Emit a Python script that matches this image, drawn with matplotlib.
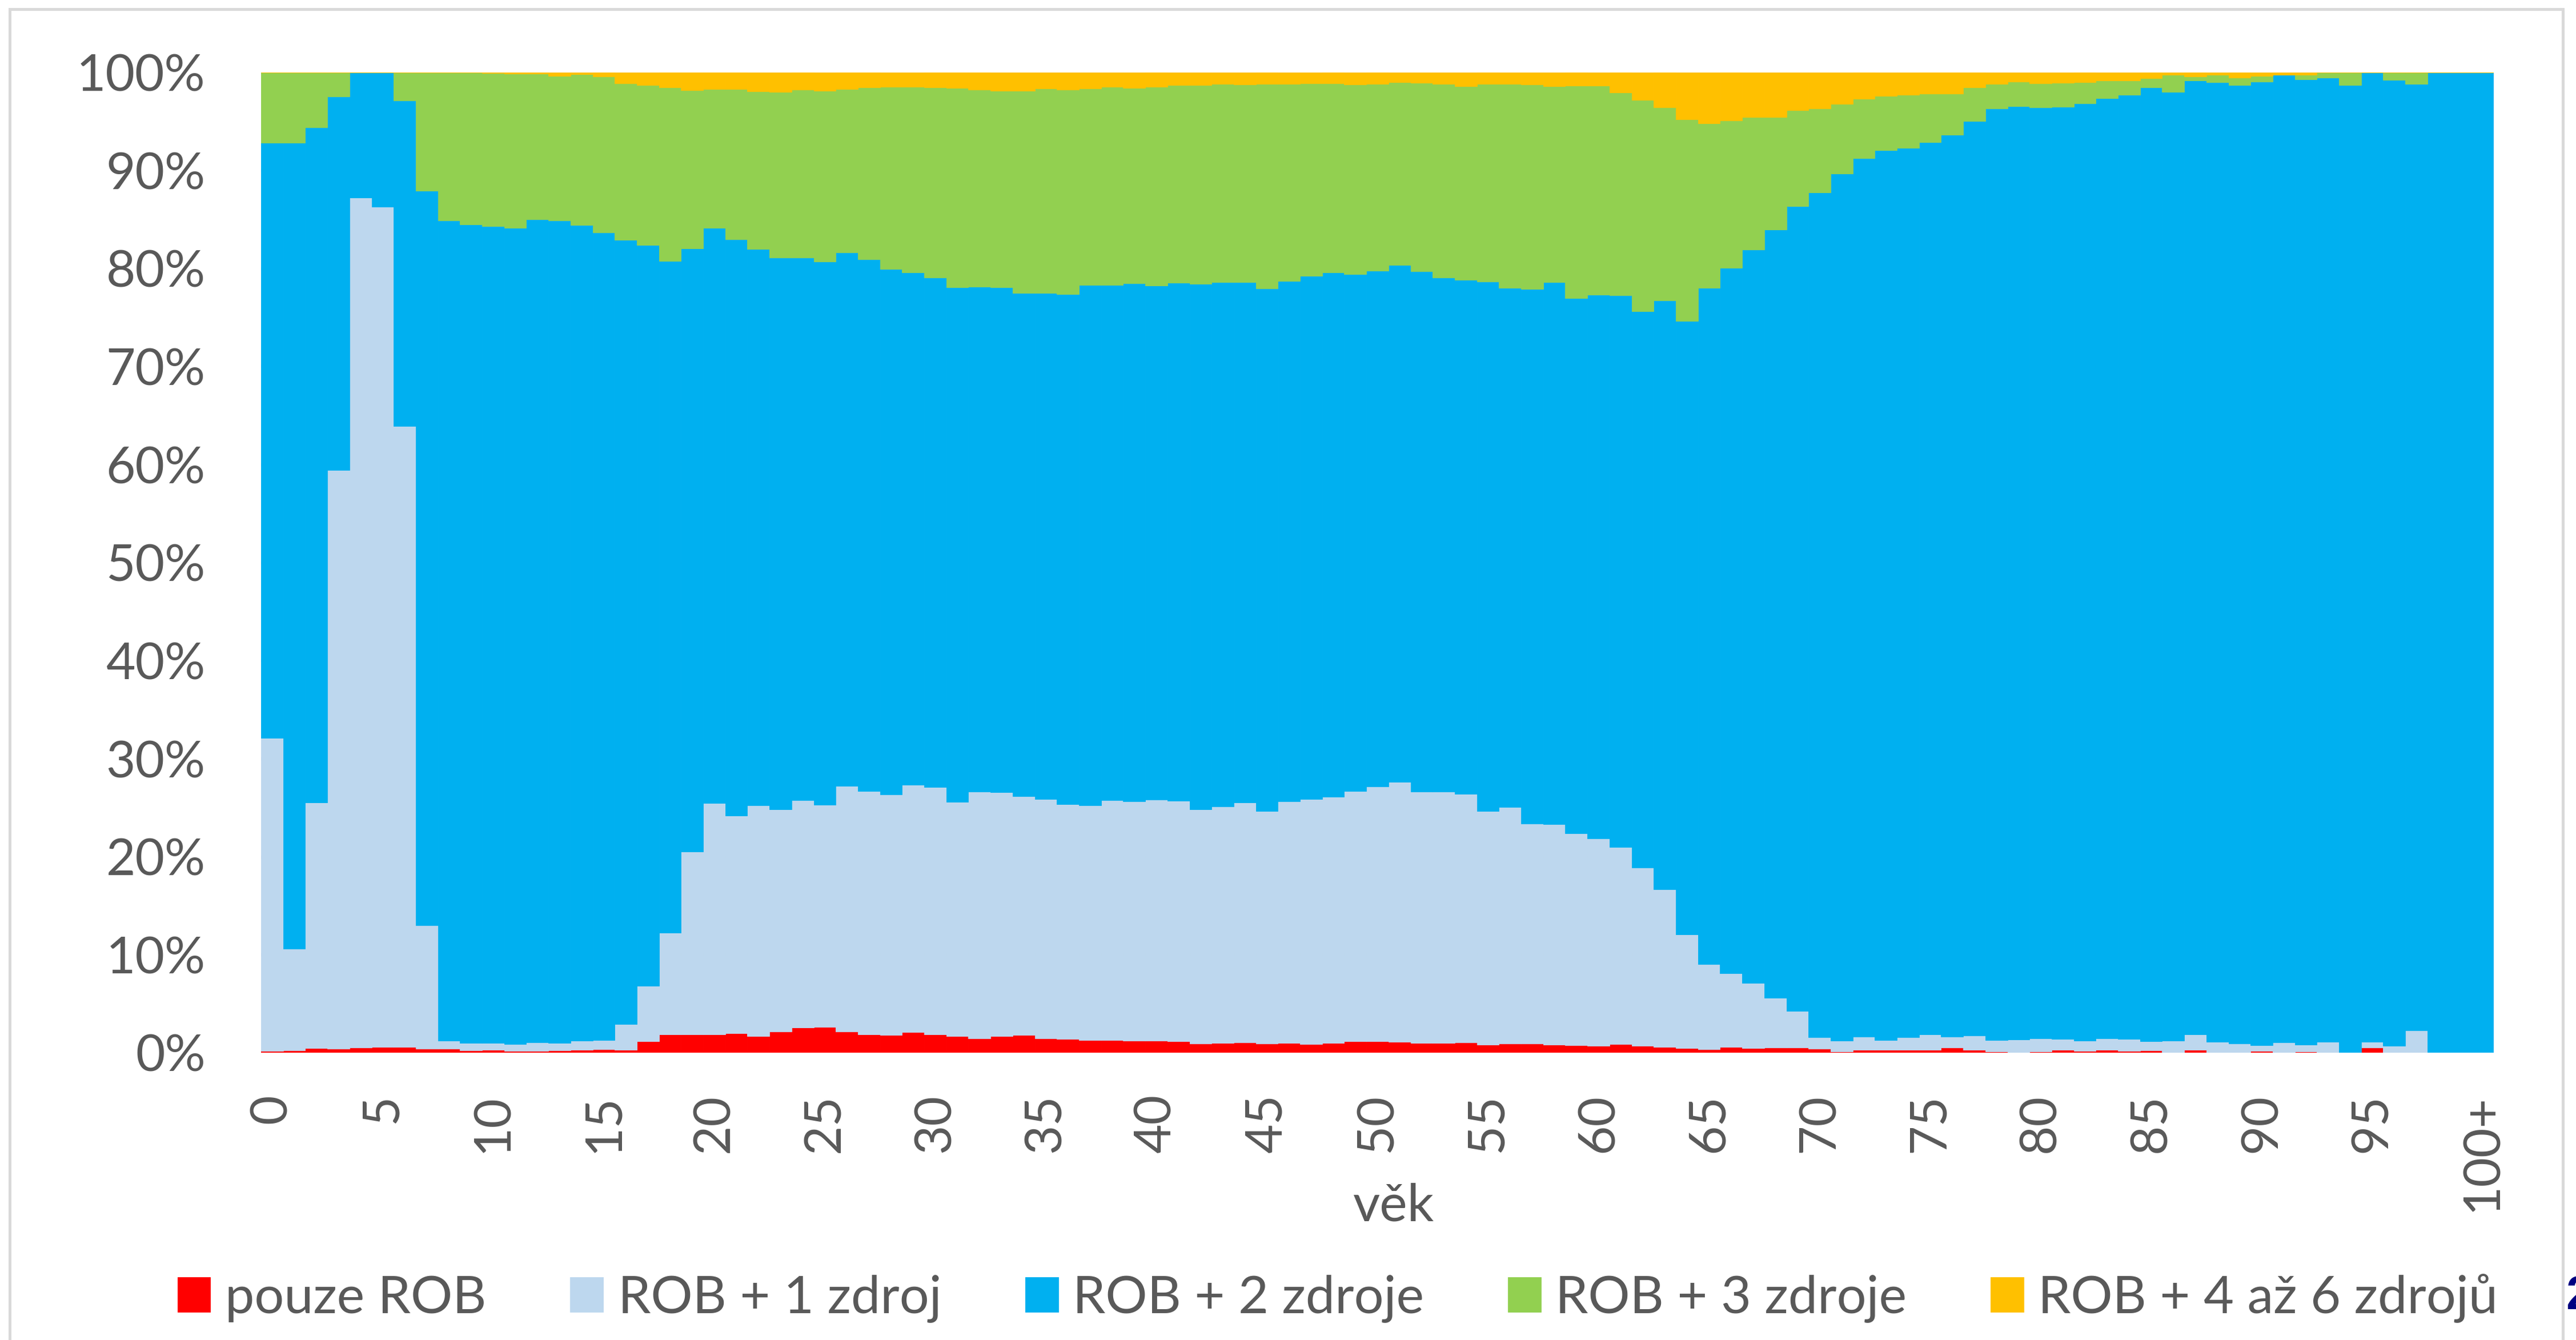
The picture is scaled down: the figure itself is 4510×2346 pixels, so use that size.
import matplotlib
matplotlib.use("Agg")
import matplotlib.pyplot as plt
import numpy as np
from matplotlib.patches import Rectangle

# ---------------------------------------------------------------------------
# Data: share of persons by number of data sources, per age (0 .. 100+), in %
# ---------------------------------------------------------------------------

ages = [str(a) for a in range(100)] + ["100+"]

pouze_rob = [
    0.15, 0.25, 0.45, 0.40, 0.52, 0.58, 0.58, 0.40, 0.40, 0.25,
    0.30, 0.20, 0.20, 0.25, 0.30, 0.35, 0.27, 1.14, 1.85, 1.85,
    1.85, 1.98, 1.67, 2.18, 2.58, 2.65, 2.18, 1.85, 1.78, 2.07,
    1.85, 1.71, 1.47, 1.71, 1.78, 1.47, 1.38, 1.31, 1.31, 1.20,
    1.20, 1.14, 0.94, 1.00, 1.07, 0.94, 1.00, 0.87, 1.00, 1.18,
    1.18, 1.09, 1.00, 1.00, 1.07, 0.80, 0.94, 0.94, 0.80, 0.73,
    0.67, 0.87, 0.67, 0.60, 0.47, 0.33, 0.61, 0.49, 0.55, 0.51,
    0.43, 0.10, 0.29, 0.29, 0.29, 0.29, 0.51, 0.29, 0.10, 0.00,
    0.10, 0.29, 0.16, 0.29, 0.16, 0.21, 0.00, 0.29, 0.00, 0.00,
    0.16, 0.00, 0.10, 0.00, 0.00, 0.51, 0.00, 0.00, 0.00, 0.00,
    0.00,
]

rob_1 = [
    31.95, 10.35, 25.05, 59.00, 86.68, 85.72, 63.32, 12.60, 0.80, 0.75,
    0.70, 0.70, 0.85, 0.73, 0.90, 0.92, 2.67, 5.70, 10.40, 18.66,
    23.63, 22.18, 23.54, 22.65, 23.17, 22.65, 25.01, 24.81, 24.57, 25.26,
    25.23, 23.84, 25.14, 24.86, 24.37, 24.41, 23.97, 23.92, 24.44, 24.41,
    24.61, 24.54, 23.89, 24.10, 24.43, 23.69, 24.61, 25.01, 25.08, 25.50,
    25.97, 26.50, 25.61, 25.61, 25.32, 23.83, 24.14, 22.45, 22.52, 21.65,
    21.18, 20.11, 18.19, 16.08, 11.60, 8.72, 7.51, 6.64, 5.05, 3.72,
    1.13, 1.13, 1.35, 1.00, 1.27, 1.60, 1.11, 1.47, 1.19, 1.35,
    1.38, 1.13, 1.07, 1.19, 1.21, 0.94, 1.23, 1.60, 1.09, 0.96,
    0.60, 1.03, 0.72, 1.09, 0.00, 0.58, 0.70, 2.30, 0.05, 0.05,
    0.05,
]

rob_2 = [
    60.70, 82.20, 68.90, 38.10, 12.80, 13.70, 33.20, 74.90, 83.70, 83.50,
    83.30, 83.20, 83.95, 83.89, 83.23, 82.36, 79.97, 75.54, 68.52, 61.51,
    58.66, 58.80, 56.77, 56.24, 55.32, 55.41, 54.43, 54.25, 53.58, 52.26,
    52.00, 52.53, 51.54, 51.51, 51.33, 51.60, 51.99, 53.07, 52.55, 52.85,
    52.43, 52.85, 53.59, 53.49, 53.09, 53.34, 53.09, 53.36, 53.49, 52.74,
    52.62, 52.72, 53.09, 52.45, 52.45, 54.03, 52.93, 54.49, 55.27, 54.59,
    55.45, 56.27, 56.77, 60.04, 62.56, 68.96, 71.92, 74.78, 78.34, 82.11,
    86.17, 88.41, 89.58, 90.73, 90.73, 91.00, 91.99, 93.25, 95.01, 95.17,
    94.91, 95.04, 95.61, 95.89, 96.31, 97.31, 96.77, 97.26, 97.91, 97.73,
    98.28, 98.73, 98.45, 98.33, 98.69, 98.91, 98.50, 96.50, 99.95, 99.95,
    99.95,
]

rob_3 = [
    7.20, 7.20, 5.60, 2.50, 0.00, 0.00, 2.90, 12.05, 15.05, 15.45,
    15.60, 15.75, 14.87, 14.77, 15.35, 15.95, 15.93, 16.33, 17.69, 16.15,
    14.14, 15.32, 16.08, 16.92, 17.17, 17.42, 16.66, 17.53, 18.60, 18.94,
    19.38, 20.29, 20.05, 20.05, 20.65, 20.87, 20.90, 20.05, 20.23, 19.94,
    20.27, 20.16, 20.27, 20.23, 20.16, 20.85, 20.12, 19.65, 19.32, 19.33,
    19.05, 18.67, 19.21, 19.76, 19.73, 20.16, 20.81, 20.87, 19.98, 21.67,
    21.34, 20.70, 21.56, 19.72, 20.56, 16.80, 15.02, 13.50, 11.47, 9.81,
    8.57, 7.13, 6.08, 5.55, 5.42, 4.95, 4.23, 3.43, 2.52, 2.52,
    2.45, 2.45, 2.16, 1.81, 1.50, 0.92, 1.71, 0.43, 0.76, 0.75,
    0.58, 0.00, 0.44, 0.58, 1.31, 0.00, 0.80, 1.20, 0.00, 0.00,
    0.00,
]

rob_4_6 = [
    0.00, 0.00, 0.00, 0.00, 0.00, 0.00, 0.00, 0.05, 0.05, 0.05,
    0.10, 0.15, 0.13, 0.36, 0.22, 0.42, 1.16, 1.29, 1.54, 1.83,
    1.72, 1.72, 1.94, 2.01, 1.76, 1.87, 1.72, 1.56, 1.47, 1.47,
    1.54, 1.63, 1.80, 1.87, 1.87, 1.65, 1.76, 1.65, 1.47, 1.60,
    1.49, 1.31, 1.31, 1.18, 1.25, 1.18, 1.18, 1.11, 1.11, 1.25,
    1.18, 1.02, 1.09, 1.18, 1.43, 1.18, 1.18, 1.25, 1.43, 1.36,
    1.36, 2.05, 2.81, 3.56, 4.81, 5.19, 4.94, 4.59, 4.59, 3.85,
    3.70, 3.23, 2.70, 2.43, 2.29, 2.16, 2.16, 1.56, 1.18, 0.96,
    1.16, 1.09, 1.00, 0.82, 0.82, 0.62, 0.29, 0.42, 0.24, 0.56,
    0.38, 0.24, 0.29, 0.00, 0.00, 0.00, 0.00, 0.00, 0.00, 0.00,
    0.00,
]

series_labels = ["pouze ROB", "ROB + 1 zdroj", "ROB + 2 zdroje",
                 "ROB + 3 zdroje", "ROB + 4 až 6 zdrojů"]
series_values = [pouze_rob, rob_1, rob_2, rob_3, rob_4_6]
colors = ["#FF0000", "#BDD7EE", "#00B0F0", "#92D050", "#FFC000"]

TEXT = "#595959"
GRID = "#D9D9D9"
FONT = ["Lato", "DejaVu Sans"]

# ---------------------------------------------------------------------------
# Figure
# ---------------------------------------------------------------------------

plt.rcParams["font.family"] = FONT

W, H, DPI = 4510, 2346, 100
fig = plt.figure(figsize=(W / DPI, H / DPI), dpi=DPI)
ax = fig.add_axes([457 / W, 1 - 1843 / H, (4366 - 457) / W, (1843 - 126.5) / H])

x = np.arange(len(ages))
data = np.array(series_values, dtype=float)
# normalise to a 100 % stack
data = data / data.sum(axis=0) * 100.0

bottom = np.zeros(len(ages))
for vals, label, col in zip(data, series_labels, colors):
    ax.bar(x, vals, bottom=bottom, width=1.0, color=col, edgecolor=col,
           linewidth=0.6, label=label, zorder=2)
    bottom += vals

ax.set_xlim(-0.5, len(ages) - 0.5)
ax.set_ylim(0, 100)

ax.set_yticks(np.arange(0, 101, 10))
ax.set_yticklabels([f"{v}%" for v in range(0, 101, 10)])
tick_pos = list(range(0, 100, 5)) + [100]
ax.set_xticks(tick_pos)
ax.set_xticklabels([ages[i] for i in tick_pos], rotation=90, va="top", ha="center")

ax.tick_params(axis="y", length=0, pad=70, labelsize=64, labelcolor=TEXT)
ax.tick_params(axis="x", length=0, pad=52, labelsize=64, labelcolor=TEXT)

ax.grid(axis="y", color=GRID, linewidth=3.6, zorder=0)
ax.set_axisbelow(True)
for s in ax.spines.values():
    s.set_visible(False)

fig.text(2440 / W, 1 - 2112 / H, "věk", ha="center", va="center",
         fontsize=66, color=TEXT)

leg = fig.legend(loc="center", bbox_to_anchor=(2342 / W, 1 - 2273 / H),
                 ncol=5, frameon=False, fontsize=66, handlelength=0.63,
                 handleheight=0.65, handletextpad=0.28, columnspacing=1.6)
for t in leg.get_texts():
    t.set_color(TEXT)

# chart border and the page number cut off at the right edge (as in the source)
fig.patches.append(Rectangle((17 / W, -0.05), (4487 - 17) / W, 1.05 - 16 / H,
                             transform=fig.transFigure, fill=False,
                             edgecolor=GRID, linewidth=3.6))
fig.text(4492 / W, 1 - 2270 / H, "2", ha="left", va="center", fontsize=60,
         fontweight="bold", color="#000080", family=["Liberation Sans"])

fig.savefig("out.png", dpi=DPI)
